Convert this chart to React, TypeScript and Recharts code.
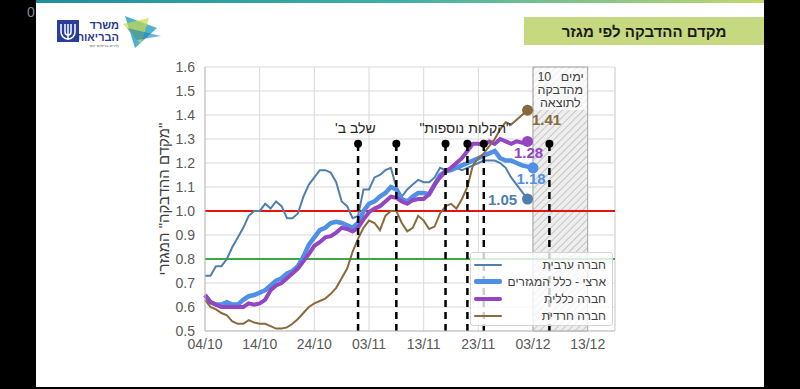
import {
  LineChart,
  Line,
  XAxis,
  YAxis,
  CartesianGrid,
  ReferenceLine,
  ReferenceArea,
  ReferenceDot,
  Legend,
} from "recharts";

// days counted from 04/10
const xTickDays = [0, 10, 20, 30, 40, 50, 60, 70];
const xTickLabels = ["04/10", "14/10", "24/10", "03/11", "13/11", "23/11", "03/12", "13/12"];
const yTicks = [0.5, 0.6, 0.7, 0.8, 0.9, 1.0, 1.1, 1.2, 1.3, 1.4, 1.5, 1.6];

const arab = [
  0.73, 0.73, 0.77, 0.77, 0.8, 0.85, 0.89, 0.93, 0.98, 1.0,
  1.0, 1.03, 1.01, 1.04, 1.02, 0.97, 0.97, 0.99, 1.06, 1.11,
  1.14, 1.17, 1.17, 1.16, 1.12, 1.04, 1.02, 0.97, 0.98, 1.09,
  1.09, 1.14, 1.15, 1.17, 1.18, 1.1, 1.06, 1.09, 1.11, 1.13,
  1.12, 1.12, 1.14, 1.18, 1.17, 1.17, 1.18, 1.17, 1.18, 1.19,
  1.2, 1.21, 1.21, 1.21, 1.2, 1.18, 1.14, 1.11, 1.08, 1.05,
];
const national = [
  0.65, 0.62, 0.61, 0.61, 0.62, 0.61, 0.61, 0.63, 0.645, 0.65,
  0.66, 0.67, 0.69, 0.71, 0.72, 0.74, 0.75, 0.77, 0.81, 0.86,
  0.89, 0.92, 0.93, 0.95, 0.955, 0.95, 0.94, 0.93, 0.95, 1.0,
  1.03, 1.04, 1.06, 1.075, 1.1, 1.09, 1.05, 1.04, 1.06, 1.075,
  1.075, 1.07, 1.11, 1.15, 1.165, 1.17, 1.18, 1.19, 1.2, 1.21,
  1.22, 1.23, 1.24, 1.25, 1.22, 1.21, 1.21, 1.2, 1.19, 1.185,
  1.18,
];
const general = [
  0.65, 0.62, 0.61, 0.6, 0.6, 0.6, 0.6, 0.6, 0.615, 0.61,
  0.615, 0.63, 0.67, 0.69, 0.7, 0.72, 0.74, 0.76, 0.79, 0.82,
  0.855, 0.87, 0.89, 0.895, 0.91, 0.93, 0.925, 0.915, 0.93, 0.965,
  0.995, 1.01, 1.02, 1.04, 1.06, 1.055, 1.04, 1.03, 1.045, 1.05,
  1.05, 1.07, 1.11, 1.14, 1.165, 1.18, 1.2, 1.22, 1.25, 1.28,
  1.28, 1.275, 1.29, 1.28, 1.3, 1.29, 1.28, 1.29, 1.285, 1.29,
];
const haredi = [
  0.63, 0.6, 0.59, 0.575, 0.565, 0.54, 0.53, 0.53, 0.545, 0.535,
  0.53, 0.53, 0.52, 0.51, 0.51, 0.515, 0.53, 0.55, 0.575, 0.6,
  0.615, 0.625, 0.635, 0.655, 0.68, 0.72, 0.76, 0.83, 0.885, 0.93,
  0.96, 0.95, 0.92, 0.98, 1.0, 1.0, 0.95, 0.915, 0.93, 0.98,
  0.96, 0.925, 0.935, 0.99, 1.02, 1.03, 1.01, 1.05, 1.1, 1.19,
  1.22, 1.24, 1.27, 1.3, 1.34, 1.37, 1.36, 1.38, 1.4, 1.42,
];

const endLabels = { arab: "1.05", national: "1.18", general: "1.28", haredi: "1.41" };

const eventDays = [28, 35, 44, 48, 51, 63];
const eventTop = 1.28;
const lagStart = 60;
const lagEnd = 70;
const lagDays = "10";
const lagText = ["ימים", "מהדבקה", "לתוצאה"];

const RLM = "\u200F";
const notes = [
  { day: 27.5, y: 1.345, text: RLM + "שלב ב'" + RLM },
  { day: 47.6, y: 1.345, text: RLM + '"הקלות נוספות"' + RLM },
];

const series = [
  { key: "arab", name: "חברה ערבית", color: "#4f7fae", width: 2, dx: -25, dy: 0 },
  { key: "national", name: "ארצי - כלל המגזרים", color: "#4f8fe6", width: 4.5, dx: -2, dy: 11 },
  { key: "general", name: "חברה כללית", color: "#9345c2", width: 4, dx: 1, dy: 11 },
  { key: "haredi", name: "חברה חרדית", color: "#8a6a3c", width: 2, dx: 19, dy: 9 },
];

const rows = national.map((v, i) => ({
  day: i,
  arab: arab[i] ?? null,
  national: v,
  general: general[i] ?? null,
  haredi: haredi[i] ?? null,
}));

const font = '"Liberation Sans", Arial, sans-serif';

const lastIndex = (key: string) => {
  const arr = key === "arab" ? arab : key === "national" ? national : key === "general" ? general : haredi;
  return arr.length - 1;
};

const renderLegend = (props: any) => {
  const payload = props.payload || [];
  return (
    <div
      style={{
        width: 143,
        height: 74,
        boxSizing: "border-box",
        background: "rgba(255,255,255,0.8)",
        border: "1px solid #d4d4d4",
        borderRadius: 3,
        padding: "3px 6px 0 3px",
        fontFamily: font,
      }}
    >
      {series.map((s) => {
        const p = payload.find((x: any) => x.dataKey === s.key);
        return (
          <div key={s.key} style={{ display: "flex", alignItems: "center", height: 17 }}>
            <div style={{ width: 28, height: s.width, background: s.color, borderRadius: 2 }} />
            <div style={{ flex: 1, textAlign: "right", direction: "rtl", fontSize: 12, color: "#404040" }}>
              {p ? p.value : s.name}
            </div>
          </div>
        );
      })}
    </div>
  );
};

export default function App() {
  return (
    <div
      style={{
        position: "absolute",
        left: 0,
        top: 0,
        width: 800,
        height: 389,
        background: "#000",
        overflow: "hidden",
        fontFamily: font,
      }}
    >
      <div style={{ position: "absolute", left: 36, top: 0, width: 728, height: 387, background: "#fff" }} />
      <div
        style={{
          position: "absolute",
          left: 36,
          top: 0,
          width: 728,
          height: 3,
          background: "linear-gradient(90deg, #1e8f9c, #3fb0a8 50%, #c2d86a)",
        }}
      />
      <div style={{ position: "absolute", left: 27, top: 4, color: "#8a8a8a", fontSize: 14 }}>0</div>

      {/* logo */}
      <svg style={{ position: "absolute", left: 55, top: 14 }} width={110} height={36}>
        <rect x={2} y={6} width={22} height={22} fill="#2a3d9a" />
        <path d="M6 10 v8 a7 7 0 0 0 14 0 v-8 M10 10 v8 a3 3 0 0 0 6 0 v-8 M13 10 v16" stroke="#fff" strokeWidth={1.5} fill="none" />
        <polygon points="70,2 102,14 80,34" fill="#2fa3c8" opacity={0.85} />
        <polygon points="68,10 94,4 86,30" fill="#c6d84a" opacity={0.7} />
        <polygon points="72,14 106,22 82,26" fill="#1d7fb8" opacity={0.6} />
        <text x={64} y={15} textAnchor="end" fontSize={11} fontWeight="bold" fill="#2b3a8c">משרד</text>
        <text x={64} y={27} textAnchor="end" fontSize={11} fontWeight="bold" fill="#2b3a8c">הבריאות</text>
        <text x={64} y={33} textAnchor="end" fontSize={4} fill="#555">לחיים בריאים יותר</text>
      </svg>

      {/* title box */}
      <div
        style={{
          position: "absolute",
          left: 524,
          top: 17,
          width: 240,
          height: 28,
          background: "#c6d981",
          display: "flex",
          alignItems: "center",
          justifyContent: "center",
          fontWeight: "bold",
          fontSize: 15,
          color: "#1a1a1a",
          direction: "rtl",
        }}
      >
        מקדם ההדבקה לפי מגזר
      </div>

      <div style={{ position: "absolute", left: 0, top: 0 }}>
        <LineChart
          width={800}
          height={389}
          data={rows}
          margin={{ top: 67, right: 185, bottom: 28, left: 145 }}
          style={{ fontFamily: font }}
        >
          <defs>
            <pattern id="hatch" width={5} height={5} patternUnits="userSpaceOnUse" patternTransform="rotate(45)">
              <rect width={5} height={5} fill="#eeeeee" />
              <line x1={0} y1={0} x2={0} y2={5} stroke="#b8b8b8" strokeWidth={1.5} />
            </pattern>
          </defs>
          <CartesianGrid stroke="#d9d9d9" strokeWidth={1} />
          <XAxis
            dataKey="day"
            type="number"
            domain={[0, 75]}
            ticks={xTickDays}
            tickFormatter={(d) => xTickLabels[xTickDays.indexOf(d)] ?? ""}
            tick={{ fill: "#595959", fontSize: 14 }}
            tickLine={false}
            axisLine={{ stroke: "#bfbfbf" }}
          />
          <YAxis
            type="number"
            domain={[0.5, 1.6]}
            ticks={yTicks}
            width={60}
            tickFormatter={(v) => v.toFixed(1)}
            tick={{ fill: "#595959", fontSize: 14 }}
            tickLine={false}
            tickMargin={4}
            axisLine={{ stroke: "#bfbfbf" }}
            label={(p: any) => {
              const cy = p.viewBox ? p.viewBox.y + p.viewBox.height / 2 : 199;
              return (
                <text
                  x={163}
                  y={cy}
                  transform={`rotate(-90 163 ${cy})`}
                  textAnchor="middle"
                  dominantBaseline="central"
                  fontSize={15}
                  fill="#404040"
                >
                  {RLM + '"מקדם ההדבקה" המגזרי' + RLM}
                </text>
              );
            }}
          />
          <ReferenceLine x={75} stroke="#d9d9d9" />
          <ReferenceArea
            x1={lagStart}
            x2={lagEnd}
            y1={0.5}
            y2={1.6}
            fill="url(#hatch)"
            fillOpacity={1}
            stroke="#a6a6a6"
            strokeWidth={1}
            label={(p: any) => {
              const vb = p.viewBox || { x: 533, y: 67, width: 55 };
              const cx = vb.x + vb.width / 2;
              return (
                <g>
                  <rect x={vb.x + 1} y={vb.y + 1} width={vb.width - 2} height={42} fill="#fff" opacity={0.75} />
                  <text fontSize={12.5} fill="#404040">
                    <tspan x={cx - 9} y={vb.y + 13.5} textAnchor="end">
                      {lagDays}
                    </tspan>
                    {lagText.map((t, i) => (
                      <tspan
                        key={i}
                        x={i === 0 ? cx + 12 : cx}
                        y={vb.y + 13.5 + i * 13.3}
                        textAnchor="middle"
                      >
                        {t}
                      </tspan>
                    ))}
                  </text>
                </g>
              );
            }}
          />
          <ReferenceLine y={1.0} stroke="#e8120c" strokeWidth={2} />
          <ReferenceLine y={0.8} stroke="#3aa845" strokeWidth={2} />
          {series.map((s) => {
            const last = lastIndex(s.key);
            return (
              <Line
                key={s.key}
                dataKey={s.key}
                name={s.name}
                stroke={s.color}
                strokeWidth={s.width}
                isAnimationActive={false}
                connectNulls={false}
                dot={(p: any) =>
                  p.index === last ? (
                    <circle key={`d${p.index}`} cx={p.cx} cy={p.cy} r={5.5} fill={s.color} />
                  ) : (
                    <g key={`d${p.index}`} />
                  )
                }
                activeDot={false}
                label={(p: any) =>
                  p.index === last ? (
                    <text
                      key={`l${p.index}`}
                      x={p.x + s.dx}
                      y={p.y + s.dy}
                      textAnchor="middle"
                      dominantBaseline="central"
                      fontSize={15}
                      fontWeight="bold"
                      fill={s.color}
                    >
                      {endLabels[s.key as keyof typeof endLabels]}
                    </text>
                  ) : (
                    <g key={`l${p.index}`} />
                  )
                }
              />
            );
          })}
          {eventDays.map((d) => (
            <ReferenceLine
              key={`e${d}`}
              segment={[
                { x: d, y: 0.5 },
                { x: d, y: eventTop },
              ]}
              stroke="#000"
              strokeWidth={2.5}
              strokeDasharray="7 5"
            />
          ))}
          {eventDays.map((d) => (
            <ReferenceDot key={`p${d}`} x={d} y={eventTop} r={4} fill="#000" stroke="none" />
          ))}
          {notes.map((n) => (
            <ReferenceDot
              key={n.text}
              x={n.day}
              y={n.y}
              r={0}
              fill="none"
              stroke="none"
              label={{ value: n.text, position: "center", fill: "#262626", fontSize: 14 }}
            />
          ))}
          <Legend
            layout="vertical"
            align="center"
            verticalAlign="middle"
            wrapperStyle={{ left: 470, top: 252, width: 143, height: 74 }}
            content={renderLegend}
          />
        </LineChart>
      </div>
    </div>
  );
}
